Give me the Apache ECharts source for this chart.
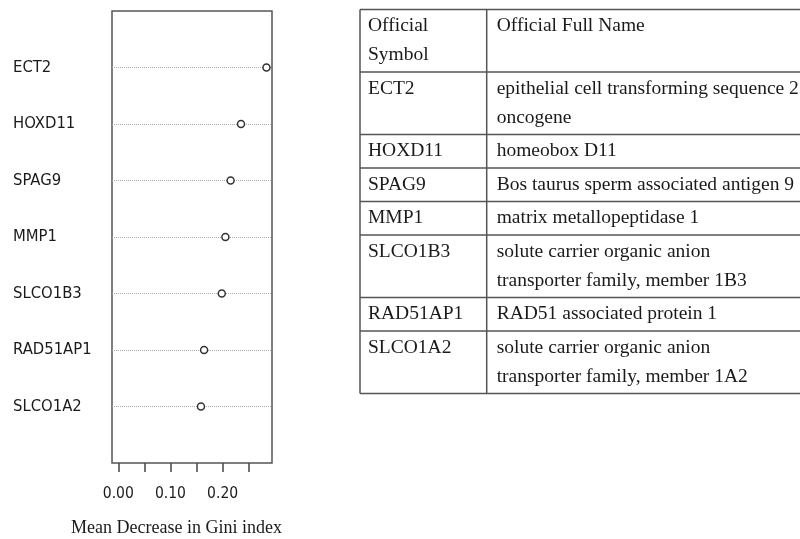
<!DOCTYPE html>
<html><head><meta charset="utf-8">
<script src="https://cdn.jsdelivr.net/npm/echarts@6/dist/echarts.min.js"></script>
<style>html,body{margin:0;padding:0;background:#fff}#c{width:800px;height:539px}</style>
</head><body><div id="c"></div>
<script>
// ---- data ----
const genes = ['ECT2', 'HOXD11', 'SPAG9', 'MMP1', 'SLCO1B3', 'RAD51AP1', 'SLCO1A2'];
const giniValues = [0.285, 0.236, 0.216, 0.206, 0.199, 0.165, 0.159];
const xTickLabels = ['0.00', '0.10', '0.20'];
const xAxisTitle = 'Mean Decrease in Gini index';
const headerSymbol = ['Official', 'Symbol'];
const headerName = ['Official Full Name'];
const fullNames = [
  ['epithelial cell transforming sequence 2', 'oncogene'],
  ['homeobox D11'],
  ['Bos taurus sperm associated antigen 9'],
  ['matrix metallopeptidase 1'],
  ['solute carrier organic anion', 'transporter family, member 1B3'],
  ['RAD51 associated protein 1'],
  ['solute carrier organic anion', 'transporter family, member 1A2']
];

// ---- table graphics ----
const sansFont = "'DejaVu Sans Condensed', 'Liberation Sans Narrow', 'DejaVu Sans', sans-serif";
const serifFont = "'Liberation Serif', 'DejaVu Serif', serif";
const lineH = 29, pad = 4.5, tTop = 9.5, tLeft = 360, tDiv = 486.7, tRight = 812;
const rows = [[headerSymbol, headerName]].concat(genes.map((g, i) => [[g], fullNames[i]]));
const gfx = [];
const lineStyle = { stroke: '#555', lineWidth: 1.5 };
let y = tTop;
gfx.push({ type: 'line', shape: { x1: tLeft, y1: y, x2: tRight, y2: y }, style: lineStyle });
rows.forEach(r => {
  const n = Math.max(r[0].length, r[1].length);
  const h = n * lineH + pad;
  [[r[0], tLeft + 8], [r[1], tDiv + 10]].forEach(([lines, x]) => {
    lines.forEach((t, k) => {
      gfx.push({ type: 'text', x: x, y: y + pad / 2 + lineH / 2 + k * lineH,
        style: { text: t, font: '19.5px ' + serifFont, fill: '#1a1a1a', textAlign: 'left', textVerticalAlign: 'middle' } });
    });
  });
  y += h;
  gfx.push({ type: 'line', shape: { x1: tLeft, y1: y, x2: tRight, y2: y }, style: lineStyle });
});
gfx.push({ type: 'line', shape: { x1: tLeft, y1: tTop, x2: tLeft, y2: y }, style: lineStyle });
gfx.push({ type: 'line', shape: { x1: tDiv, y1: tTop, x2: tDiv, y2: y }, style: lineStyle });
gfx.push({ type: 'text', x: 176.5, y: 528,
  style: { text: xAxisTitle, font: '18px ' + serifFont, fill: '#1a1a1a', textAlign: 'center', textVerticalAlign: 'middle' } });

const yCats = [''].concat(genes, ['']);

const chart = echarts.init(document.getElementById('c'));
chart.setOption({
  backgroundColor: '#fff',
  animation: false,
  grid: [
    { left: 112, top: 11, width: 160, height: 452, show: true, borderColor: '#555', borderWidth: 1.5, backgroundColor: 'transparent' },
    { left: 118.3, top: 11, width: 130.4, height: 452, show: false }
  ],
  xAxis: [
    { gridIndex: 0, type: 'value', min: -0.0121, max: 0.2956, show: false },
    { gridIndex: 1, type: 'value', min: 0, max: 0.25, interval: 0.05, position: 'bottom', offset: 3,
      axisLine: { show: false },
      axisTick: { show: true, length: 9, lineStyle: { color: '#444', width: 1.5 } },
      splitLine: { show: false },
      axisLabel: { margin: 20, color: '#1a1a1a', fontSize: 15.5, fontFamily: sansFont,
        formatter: v => { const s = v.toFixed(2); return xTickLabels.includes(s) ? s : ''; } } }
  ],
  yAxis: [
    { gridIndex: 0, type: 'category', data: yCats, inverse: true, boundaryGap: false,
      axisLine: { show: false }, axisTick: { show: false },
      axisLabel: { interval: 0, align: 'left', margin: 99, color: '#1a1a1a', fontSize: 16.5, fontFamily: sansFont },
      splitLine: { show: true, interval: (i, v) => v !== '', lineStyle: { type: 'dotted', color: '#aaa', width: 1 } } },
    { gridIndex: 1, type: 'value', show: false }
  ],
  series: [{
    type: 'scatter', xAxisIndex: 0, yAxisIndex: 0,
    data: genes.map((g, i) => [giniValues[i], g]),
    symbol: 'circle', symbolSize: 7,
    itemStyle: { color: '#fff', borderColor: '#333', borderWidth: 1.5, opacity: 1 }
  }],
  graphic: gfx
});
</script></body></html>
